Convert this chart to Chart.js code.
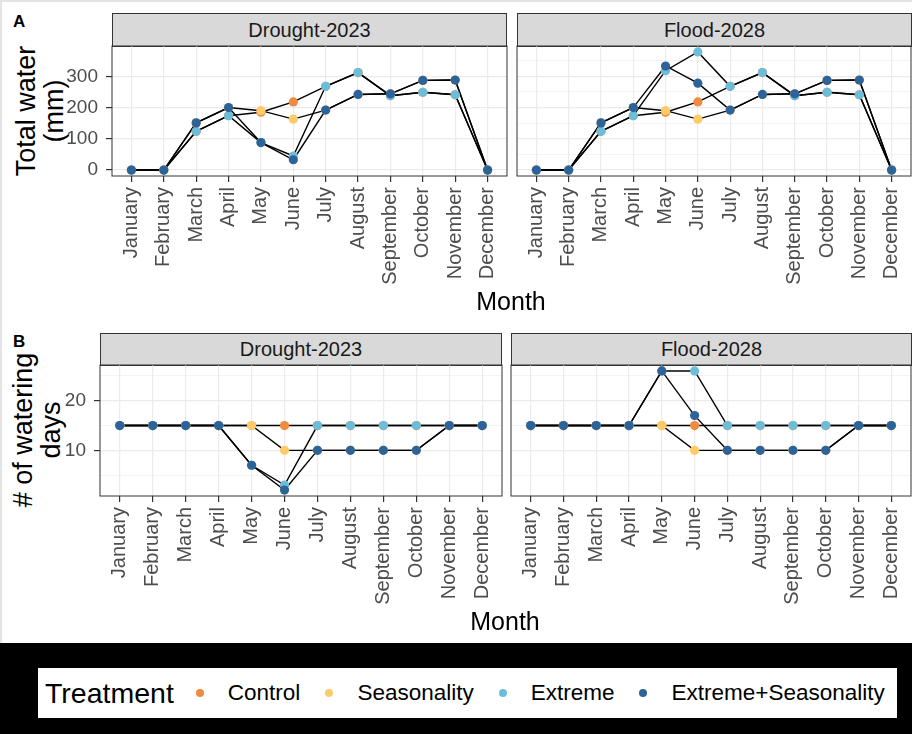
<!DOCTYPE html>
<html>
<head>
<meta charset="utf-8">
<script src="https://cdn.jsdelivr.net/npm/chart.js@4.4.1/dist/chart.umd.min.js"></script>
<style>
  body { margin: 0; background: #fff; font-family: "Liberation Sans", Arial, sans-serif; }
  #fig { position: relative; width: 912px; height: 734px; overflow: hidden; }
  #frame { position: absolute; left: 0; top: 0; width: 912px; height: 643px; box-sizing: border-box;
           border-top: 2px solid #e4e4e4; border-left: 2px solid #e4e4e4; }
  canvas { position: absolute; }
  .strip { position: absolute; box-sizing: border-box; background: #d9d9d9; border: 1px solid #333;
           color: #1a1a1a; font-size: 20px; display: flex; align-items: center; justify-content: center; }
  .ytitle { position: absolute; transform: translate(-50%, -50%) rotate(-90deg); font-size: 27px;
            line-height: 28px; text-align: center; white-space: pre; color: #000; }
  .xtitle { position: absolute; transform: translateX(-50%); font-size: 25px; color: #000; }
  .tag { position: absolute; font-size: 17px; font-weight: bold; }
  #band { position: absolute; left: 0; top: 643px; width: 912px; height: 91px; background: #000; }
  #legend { position: absolute; left: 38px; top: 668px; width: 859px; height: 50px; background: #fff;
            box-sizing: border-box; padding-left: 7px; display: flex; align-items: center; }
  #legend span { flex-shrink: 0; }
  #legend .title { font-size: 28.5px; margin-right: 22px; }
  #legend .dot { display: block; width: 8px; height: 8px; border-radius: 50%; margin-right: 24px; }
  #legend .item { font-size: 22.5px; margin-right: 25px; }
</style>
</head>
<body>
<div id="fig">
  <div id="frame"></div>

  <div class="tag" style="left:13px; top:12px;">A</div>
  <div class="ytitle" style="left:40px; top:111px;">Total water
(mm)</div>
  <div class="strip" style="left:112px; top:13px; width:395px; height:34px;">Drought-2023</div>
  <div class="strip" style="left:517px; top:13px; width:395px; height:34px;">Flood-2028</div>
  <canvas id="waterDrought" width="462" height="265" style="left:50px; top:40px;"></canvas>
  <canvas id="waterFlood" width="400" height="265" style="left:512px; top:40px;"></canvas>
  <div class="xtitle" style="left:511px; top:287px;">Month</div>

  <div class="tag" style="left:13px; top:332px;">B</div>
  <div class="ytitle" style="left:37px; top:430px;"># of watering
days</div>
  <div class="strip" style="left:100px; top:333px; width:402px; height:33px;">Drought-2023</div>
  <div class="strip" style="left:511px; top:333px; width:401px; height:33px;">Flood-2028</div>
  <canvas id="daysDrought" width="455" height="260" style="left:50px; top:360px;"></canvas>
  <canvas id="daysFlood" width="406" height="260" style="left:506px; top:360px;"></canvas>
  <div class="xtitle" style="left:505px; top:607px;">Month</div>

  <div id="band"></div>
  <div id="legend"></div>
</div>

<script>
const months = ["January", "February", "March", "April", "May", "June", "July",
                "August", "September", "October", "November", "December"];
const treatments = ["Control", "Seasonality", "Extreme", "Extreme+Seasonality"];
const treatmentColors = ["#F08A3E", "#FDCB67", "#6DBDD8", "#2D6398"];

// A: total water (mm)
const droughtWaterControl     = [0, 0, 124, 174, 185, 218, 268, 312, 238, 249, 241, 0];
const droughtWaterSeasonality = [0, 0, 151, 200, 190, 163, 192, 242, 244, 287, 288, 0];
const droughtWaterExtreme     = [0, 0, 124, 174,  88,  45, 268, 312, 238, 249, 241, 0];
const droughtWaterExtSeas     = [0, 0, 151, 200,  88,  33, 192, 242, 244, 287, 288, 0];

const floodWaterControl     = [0, 0, 124, 174, 185, 218, 268, 312, 238, 249, 241, 0];
const floodWaterSeasonality = [0, 0, 151, 200, 190, 163, 192, 242, 244, 287, 288, 0];
const floodWaterExtreme     = [0, 0, 124, 174, 318, 378, 268, 312, 238, 249, 241, 0];
const floodWaterExtSeas     = [0, 0, 151, 200, 333, 278, 192, 242, 244, 287, 288, 0];

// B: number of watering days
const droughtDaysControl     = [15, 15, 15, 15, 15, 15, 15, 15, 15, 15, 15, 15];
const droughtDaysSeasonality = [15, 15, 15, 15, 15, 10, 10, 10, 10, 10, 15, 15];
const droughtDaysExtreme     = [15, 15, 15, 15,  7,  3, 15, 15, 15, 15, 15, 15];
const droughtDaysExtSeas     = [15, 15, 15, 15,  7,  2, 10, 10, 10, 10, 15, 15];

const floodDaysControl     = [15, 15, 15, 15, 15, 15, 15, 15, 15, 15, 15, 15];
const floodDaysSeasonality = [15, 15, 15, 15, 15, 10, 10, 10, 10, 10, 15, 15];
const floodDaysExtreme     = [15, 15, 15, 15, 26, 26, 15, 15, 15, 15, 15, 15];
const floodDaysExtSeas     = [15, 15, 15, 15, 26, 17, 10, 10, 10, 10, 15, 15];

const waterTicks = [0, 50, 100, 150, 200, 250, 300, 350];
const daysTicks = [5, 10, 15, 20, 25];

Chart.defaults.font.family = '"Liberation Sans", Arial, sans-serif';

// draws the grey panel box on top, like theme_bw
const panelBorder = {
    id: "panelBorder",
    afterDraw(chart) {
        const a = chart.chartArea;
        const ctx = chart.ctx;
        ctx.save();
        ctx.strokeStyle = "#333";
        ctx.lineWidth = 1;
        ctx.strokeRect(a.left, a.top, a.right - a.left, a.bottom - a.top);
        ctx.restore();
    }
};

function makePanel(id, series, yRange, yTicks, yMajor, showY, box) {
    const canvas = document.getElementById(id);
    const lines = series.map(vals => ({
        data: vals.map((v, i) => ({ x: i + 1, y: v })),
        borderColor: "#000",
        borderWidth: 1.4,
        pointRadius: 0,
        order: 10,
        clip: false
    }));
    const dots = series.map((vals, k) => ({
        label: treatments[k],
        data: vals.map((v, i) => ({ x: i + 1, y: v })),
        showLine: false,
        pointRadius: 4.6,
        pointBackgroundColor: treatmentColors[k],
        pointBorderColor: treatmentColors[k],
        pointBorderWidth: 0,
        order: 4 - k,
        clip: false
    }));

    new Chart(canvas, {
        type: "line",
        data: { datasets: lines.concat(dots) },
        options: {
            responsive: false,
            animation: false,
            events: [],
            layout: {
                autoPadding: false,
                padding: { top: box.padTop, right: box.padRight, left: 0, bottom: 0 }
            },
            plugins: { legend: { display: false }, tooltip: { enabled: false } },
            scales: {
                x: {
                    type: "linear",
                    min: 0.4,
                    max: 12.6,
                    afterBuildTicks: s => { s.ticks = months.map((m, i) => ({ value: i + 1 })); },
                    afterFit: s => {
                        s.height = box.xHeight;
                        s.paddingLeft = 0;
                        s.paddingRight = 0;
                    },
                    ticks: {
                        autoSkip: false,
                        minRotation: 90,
                        maxRotation: 90,
                        padding: 5,
                        color: "#4d4d4d",
                        font: { size: 20 },
                        callback: v => months[v - 1]
                    },
                    grid: { color: "#ebebeb", lineWidth: 1.2, tickLength: 6, tickColor: "#333" },
                    border: { display: false }
                },
                y: {
                    type: "linear",
                    min: yRange[0],
                    max: yRange[1],
                    afterBuildTicks: s => { s.ticks = yTicks.map(v => ({ value: v })); },
                    afterFit: s => {
                        s.width = box.yWidth;
                        s.paddingTop = 0;
                        s.paddingBottom = 0;
                    },
                    ticks: {
                        display: showY,
                        padding: 8,
                        color: "#4d4d4d",
                        font: { size: 19 },
                        callback: v => (v % yMajor === 0 ? String(v) : "")
                    },
                    grid: {
                        color: "#ebebeb",
                        drawTicks: showY,
                        tickLength: 6,
                        lineWidth: c => (c.tick && c.tick.value % yMajor === 0 ? 1.2 : 0.6),
                        tickColor: c => (c.tick && c.tick.value % yMajor === 0 ? "#333" : "rgba(0,0,0,0)")
                    },
                    border: { display: false }
                }
            }
        },
        plugins: [panelBorder]
    });
}

makePanel("waterDrought",
    [droughtWaterControl, droughtWaterSeasonality, droughtWaterExtreme, droughtWaterExtSeas],
    [-19, 397], waterTicks, 100, true,
    { padTop: 6, padRight: 5, yWidth: 62, xHeight: 129 });
makePanel("waterFlood",
    [floodWaterControl, floodWaterSeasonality, floodWaterExtreme, floodWaterExtSeas],
    [-19, 397], waterTicks, 100, false,
    { padTop: 6, padRight: 1, yWidth: 5, xHeight: 129 });
makePanel("daysDrought",
    [droughtDaysControl, droughtDaysSeasonality, droughtDaysExtreme, droughtDaysExtSeas],
    [0.8, 27.2], daysTicks, 10, true,
    { padTop: 5, padRight: 3, yWidth: 50, xHeight: 124 });
makePanel("daysFlood",
    [floodDaysControl, floodDaysSeasonality, floodDaysExtreme, floodDaysExtSeas],
    [0.8, 27.2], daysTicks, 10, false,
    { padTop: 5, padRight: 1, yWidth: 5, xHeight: 124 });

// shared legend under both rows
const legend = document.getElementById("legend");
legend.innerHTML = '<span class="title">Treatment</span>' +
    treatments.map((t, k) =>
        '<span class="dot" style="background:' + treatmentColors[k] + '"></span>' +
        '<span class="item">' + t + '</span>').join("");
</script>
</body>
</html>
